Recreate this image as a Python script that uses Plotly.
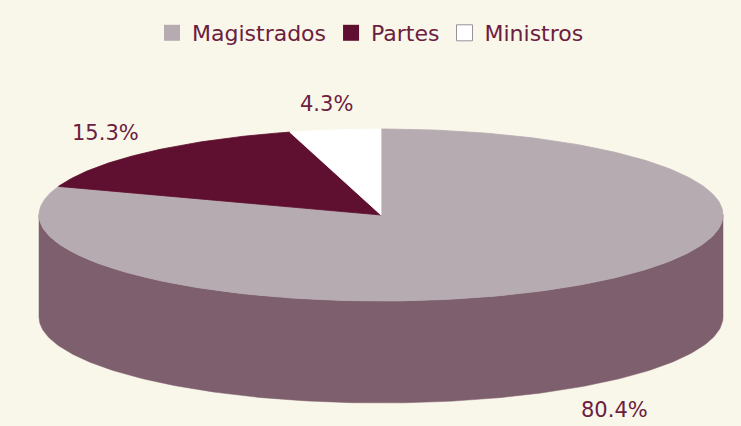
import numpy as np
import plotly.graph_objects as go

# ---- data ----
categories = ["Magistrados", "Partes", "Ministros"]
values = [80.4, 15.3, 4.3]
labels = ["80.4%", "15.3%", "4.3%"]

# ---- style ----
top_colors = ["#b6abb1", "#5f0f2f", "#ffffff"]
side_colors = ["#7e5f6d", "#4a0a24", "#e6e2dc"]
legend_colors = ["#b6abb1", "#5f0f2f", "#ffffff"]
text_color = "#6b2040"
bg = "#f9f7e9"

W, H = 741, 426
cx, cy = 381, 215   # centre of top face (pixel-like axis units)
a, b = 342, 86      # ellipse semi-axes
depth = 102         # thickness of the disc


def pt(theta_deg, dy=0.0):
    t = np.radians(theta_deg)
    return cx + a * np.sin(t), cy - b * np.cos(t) + dy


fig = go.Figure()

total = float(sum(values))
starts, ends = [], []
acc = 0.0
for v in values:
    starts.append(acc / total * 360.0)
    acc += v
    ends.append(acc / total * 360.0)

# side walls (visible front half: theta in [90, 270])
for i in range(len(values)):
    s, e = max(starts[i], 90.0), min(ends[i], 270.0)
    if e <= s:
        continue
    th = np.linspace(s, e, 200)
    xs_top, ys_top = pt(th)
    xs_bot, ys_bot = pt(th[::-1], depth)
    xs = np.concatenate([xs_top, xs_bot, xs_top[:1]])
    ys = np.concatenate([ys_top, ys_bot, ys_top[:1]])
    fig.add_trace(go.Scatter(x=xs, y=ys, mode="lines", fill="toself",
                             fillcolor=side_colors[i],
                             line=dict(color=side_colors[i], width=0.5),
                             hoverinfo="skip", showlegend=False))

# top faces
for i in range(len(values)):
    th = np.linspace(starts[i], ends[i], 300)
    xs_arc, ys_arc = pt(th)
    xs = np.concatenate([[cx], xs_arc, [cx]])
    ys = np.concatenate([[cy], ys_arc, [cy]])
    lc = "#5f0f2f" if i == 1 else top_colors[i]
    fig.add_trace(go.Scatter(x=xs, y=ys, mode="lines", fill="toself",
                             fillcolor=top_colors[i],
                             line=dict(color=lc, width=0.8),
                             hoverinfo="text", text=f"{categories[i]}: {labels[i]}",
                             showlegend=False))

# legend entries
for i, c in enumerate(categories):
    fig.add_trace(go.Scatter(x=[None], y=[None], mode="markers", name=c,
                             marker=dict(symbol="square", size=16, color=legend_colors[i],
                                         line=dict(color="#9a9098", width=1 if i == 2 else 0))))

# percentage labels
for i in range(len(values)):
    mid = (starts[i] + ends[i]) / 2.0
    t = np.radians(mid)
    lx = cx + a * np.sin(t) * 1.18
    ly = cy - b * np.cos(t) * 1.3
    if np.cos(t) < 0:
        ly += depth + 2
    fig.add_annotation(x=lx, y=ly, text=labels[i], showarrow=False,
                       font=dict(size=21, color=text_color))

fig.update_layout(
    width=W, height=H, autosize=False,
    margin=dict(l=0, r=0, t=0, b=0),
    paper_bgcolor=bg, plot_bgcolor=bg,
    font=dict(family="DejaVu Sans", color=text_color),
    xaxis=dict(range=[0, W], visible=False, fixedrange=True),
    yaxis=dict(range=[H, 0], visible=False, fixedrange=True),
    legend=dict(orientation="h", x=0.5, xanchor="center", y=1 - 33 / H, yanchor="middle",
                font=dict(size=22, color=text_color), bgcolor="rgba(0,0,0,0)",
                itemwidth=30, tracegroupgap=0),
    showlegend=True,
)

fig.write_html("out.html", config={"displayModeBar": False},
               post_script="document.body.style.margin='0';document.body.style.background='%s';" % bg)
